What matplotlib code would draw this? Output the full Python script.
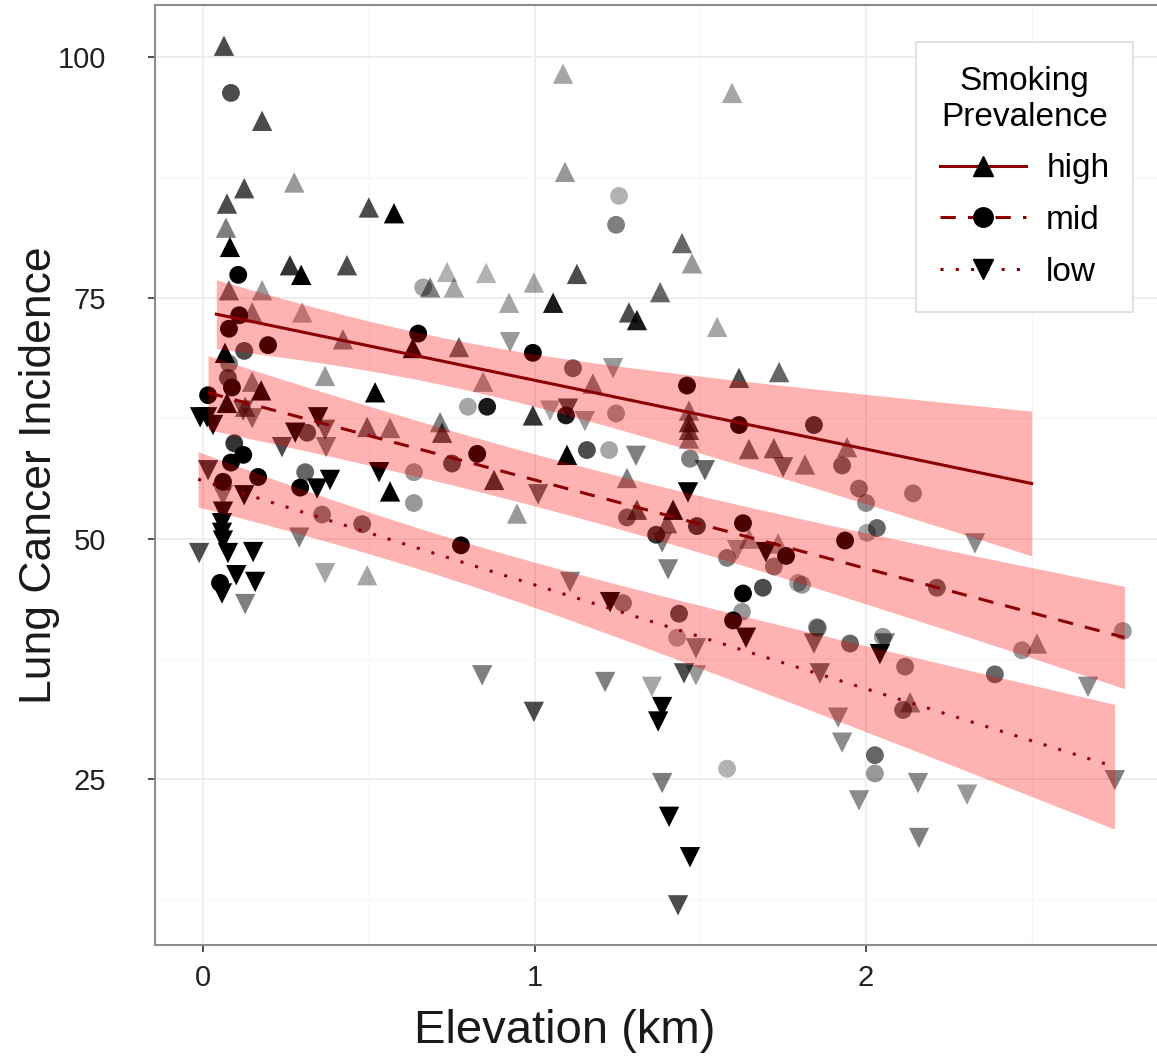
import numpy as np
import matplotlib
matplotlib.use("Agg")
import matplotlib.pyplot as plt
from matplotlib.lines import Line2D

plt.rcParams['font.family'] = ['Liberation Sans', 'DejaVu Sans']

# high smoking prevalence: elevation (km), incidence, shade (alpha)
high_x = [0.063, 0.178, 0.124, 0.275, 0.072, 0.069, 0.081, 0.500, 0.576, 0.262,
          0.296, 0.434, 0.736, 0.854, 0.685, 0.757, 0.078, 0.178, 0.299, 0.148,
          1.086, 1.596, 1.092, 1.445, 1.475, 0.998, 1.128, 0.923, 1.056, 1.379,
          1.285, 1.309, 1.551, 0.422, 0.633, 0.772, 0.368, 0.845, 0.519, 0.066,
          0.072, 0.148, 0.175, 0.127, 0.495, 0.564, 0.715, 0.721, 0.564, 0.995,
          1.176, 1.617, 1.738, 1.466, 1.466, 1.466, 1.466, 1.098, 1.647, 1.722,
          1.816, 0.878, 1.279, 0.947, 1.309, 1.418, 1.400, 1.647, 1.735, 1.943,
          2.516, 2.133, 0.495]
high_y = [101.2, 93.4, 86.4, 87.0, 84.8, 82.3, 80.3, 84.4, 83.8, 78.4,
          77.4, 78.4, 77.7, 77.6, 76.1, 76.1, 75.8, 75.8, 73.5, 73.5,
          98.3, 96.3, 88.1, 80.7, 78.6, 76.6, 77.5, 74.5, 74.5, 75.6,
          73.5, 72.7, 72.0, 70.7, 69.8, 69.9, 66.9, 66.3, 65.2, 69.3,
          64.1, 66.3, 65.4, 63.7, 61.6, 61.5, 62.1, 61.0, 54.9, 62.8,
          66.1, 66.7, 67.3, 63.3, 62.1, 61.3, 60.4, 58.7, 59.3, 59.4,
          57.7, 56.1, 56.3, 52.6, 53.0, 53.0, 51.6, 50.0, 49.5, 59.5,
          39.1, 33.0, 46.2]
high_a = [0.7, 0.7, 0.7, 0.4, 0.7, 0.5, 1.0, 0.7, 1.0, 0.8,
          1.0, 0.7, 0.3, 0.3, 0.5, 0.35, 0.6, 0.4, 0.35, 0.5,
          0.35, 0.35, 0.4, 0.6, 0.4, 0.35, 0.7, 0.35, 0.9, 0.6,
          0.7, 0.9, 0.35, 0.5, 1.0, 0.6, 0.4, 0.4, 1.0, 1.0,
          1.0, 0.5, 1.0, 0.6, 0.6, 0.5, 0.5, 0.7, 1.0, 0.8,
          0.5, 0.7, 0.6, 0.5, 0.8, 0.7, 0.5, 1.0, 0.6, 0.6,
          0.5, 0.8, 0.5, 0.4, 0.7, 1.0, 0.6, 0.4, 0.4, 0.5,
          0.45, 0.5, 0.35]

# mid smoking prevalence
mid_x = [0.084, 1.255, 1.246, 0.664, 0.106, 0.109, 0.078, 0.124, 0.196, 0.078,
         0.649, 0.075, 0.087, 0.015, 0.799, 0.857, 0.314, 0.827, 0.751, 0.094,
         0.121, 0.084, 0.166, 0.060, 0.308, 0.293, 0.636, 0.636, 0.359, 0.480,
         0.778, 0.051, 0.995, 1.116, 1.460, 1.095, 1.246, 1.617, 1.843, 1.158,
         1.225, 1.469, 1.928, 1.979, 2.142, 2.000, 2.033, 2.003, 1.937, 1.279,
         1.490, 1.629, 1.367, 1.759, 1.581, 1.722, 1.795, 1.689, 1.629, 1.267,
         1.436, 1.599, 1.626, 1.852, 1.430, 2.214, 1.807, 1.855, 1.952, 2.051,
         2.118, 2.389, 2.471, 2.775, 2.112, 2.027, 2.027, 1.581]
mid_y = [96.3, 85.6, 82.6, 76.1, 77.4, 73.2, 71.8, 69.5, 70.1, 68.2,
         71.3, 66.7, 65.7, 64.9, 63.7, 63.7, 61.0, 58.8, 57.8, 59.9,
         58.7, 57.9, 56.4, 55.9, 56.9, 55.3, 56.9, 53.7, 52.5, 51.5,
         49.3, 45.4, 69.3, 67.7, 65.9, 62.8, 63.0, 61.8, 61.8, 59.2,
         59.2, 58.3, 57.6, 55.2, 54.7, 53.7, 51.1, 50.6, 49.8, 52.2,
         51.3, 51.6, 50.4, 48.2, 48.0, 47.1, 45.4, 44.9, 44.3, 43.3,
         42.2, 41.5, 42.4, 40.8, 39.7, 44.9, 45.2, 40.7, 39.1, 39.8,
         36.7, 35.9, 38.4, 40.4, 32.2, 27.5, 25.6, 26.1]
mid_a = [0.7, 0.3, 0.5, 0.35, 1.0, 1.0, 1.0, 0.7, 1.0, 0.5,
         1.0, 0.7, 1.0, 1.0, 0.35, 0.9, 0.7, 1.0, 0.7, 0.8,
         1.0, 1.0, 1.0, 1.0, 0.6, 1.0, 0.4, 0.4, 0.5, 0.6,
         1.0, 1.0, 1.0, 0.6, 1.0, 0.9, 0.4, 1.0, 0.8, 0.7,
         0.35, 0.5, 0.6, 0.5, 0.45, 0.45, 0.6, 0.35, 1.0, 0.6,
         0.8, 1.0, 0.8, 1.0, 0.5, 0.5, 0.35, 0.7, 1.0, 0.5,
         0.7, 1.0, 0.4, 0.4, 0.35, 0.6, 0.4, 0.4, 0.6, 0.4,
         0.5, 0.6, 0.4, 0.4, 0.6, 0.6, 0.4, 0.3]

# low smoking prevalence
low_x = [0.012, 0.030, -0.009, 0.148, 0.347, 0.278, 0.368, 0.238, 0.371, 0.121,
         0.015, 0.124, 0.060, 0.060, 0.057, 0.057, 0.060, -0.012, 0.075, 0.151,
         0.100, 0.157, 0.057, 0.127, 0.290, 0.344, 0.383, 0.531, 0.368, 0.926,
         1.237, 1.047, 1.101, 1.152, 1.306, 1.514, 1.750, 1.011, 1.463, 1.385,
         1.611, 1.698, 1.107, 1.228, 1.403, 1.638, 1.487, 1.843, 2.057, 2.042,
         1.861, 2.670, 1.916, 1.928, 2.157, 2.305, 1.979, 2.160, 2.751, 2.329,
         0.842, 1.213, 1.354, 1.451, 1.487, 0.998, 1.385, 1.373, 1.385, 1.406,
         1.469, 1.433]
low_y = [62.6, 61.8, 62.6, 62.5, 62.6, 61.0, 61.3, 59.5, 59.5, 63.3,
         57.1, 54.5, 54.5, 52.8, 51.6, 50.6, 49.8, 48.5, 48.5, 48.6,
         46.2, 45.5, 44.3, 43.2, 50.1, 55.2, 56.1, 56.9, 46.4, 70.4,
         67.7, 63.3, 63.5, 62.2, 58.6, 57.1, 57.4, 54.6, 54.8, 49.6,
         48.8, 48.6, 45.5, 43.4, 46.8, 39.7, 38.6, 39.1, 39.1, 38.0,
         36.0, 34.6, 31.4, 28.8, 24.6, 23.4, 22.8, 18.9, 24.9, 49.5,
         35.8, 35.1, 34.6, 36.0, 35.8, 32.0, 32.5, 31.0, 24.6, 21.1,
         16.9, 11.9]
low_a = [1.0, 1.0, 1.0, 0.5, 1.0, 1.0, 0.6, 0.7, 0.5, 0.6,
         0.8, 1.0, 0.5, 1.0, 1.0, 1.0, 1.0, 0.7, 1.0, 1.0,
         1.0, 1.0, 1.0, 0.5, 0.5, 1.0, 1.0, 1.0, 0.35, 0.4,
         0.4, 0.35, 0.7, 0.4, 0.5, 0.6, 0.6, 0.6, 1.0, 0.5,
         0.4, 1.0, 0.5, 1.0, 0.5, 1.0, 0.5, 0.6, 0.5, 1.0,
         0.6, 0.45, 0.45, 0.45, 0.45, 0.4, 0.45, 0.5, 0.5, 0.45,
         0.5, 0.5, 0.35, 0.7, 0.4, 0.7, 1.0, 1.0, 0.5, 1.0,
         1.0, 0.7]

groups = ['high', 'mid', 'low']
markers = ['^', 'o', 'v']
linestyles = ['-', (0, (5, 4)), (0, (1, 4))]

# linear fits: intercept, slope, x range, CI half-width shape
fit_b0 = [73.6, 65.3, 56.0]
fit_b1 = [-7.15, -9.2, -10.8]
fit_lo = [0.04, 0.015, -0.015]
fit_hi = [2.5, 2.78, 2.75]
ci_min = [2.45, 2.7, 2.12]
ci_xc = [0.7, 1.05, 0.65]
ci_k = [15.6, 7.0, 8.5]

pts = [(high_x, high_y, high_a), (mid_x, mid_y, mid_a), (low_x, low_y, low_a)]

fig = plt.figure(figsize=(11.57, 10.64), dpi=100)
ax = fig.add_axes([0.134, 0.112, 0.878, 0.883])

for (xs, ys, al), m in zip(pts, markers):
    cols = [(0, 0, 0, a) for a in al]
    size = 165 if m == 'o' else 215
    ax.scatter(xs, ys, s=size, marker=m, c=cols, edgecolors='none', zorder=2)

for i in range(3):
    xx = np.linspace(fit_lo[i], fit_hi[i], 100)
    yy = fit_b0[i] + fit_b1[i] * xx
    hw = np.sqrt(ci_min[i] ** 2 + ci_k[i] * (xx - ci_xc[i]) ** 2)
    ax.fill_between(xx, yy - hw, yy + hw, color='red', alpha=0.3,
                    linewidth=0, zorder=3)
    ax.plot(xx, yy, color='#8B0000', lw=2.2, linestyle=linestyles[i], zorder=4)

ax.set_xlim(-0.145, 2.92)
ax.set_ylim(7.8, 105.4)
ax.set_xticks([0, 1, 2])
ax.set_yticks([25, 50, 75, 100])
ax.set_xticks([0.5, 1.5, 2.5], minor=True)
ax.set_yticks([12.5, 37.5, 62.5, 87.5], minor=True)
ax.grid(True, which='major', color='#EBEBEB', lw=1.2, zorder=0)
ax.grid(True, which='minor', color='#F6F6F6', lw=1.0, zorder=0)
ax.set_axisbelow(True)
ax.tick_params(which='major', length=5, width=1.2, color='#333333',
               labelsize=21, labelcolor='#222222')
ax.tick_params(axis='y', which='major', pad=30)
ax.tick_params(axis='x', which='major', pad=9)
ax.tick_params(which='minor', length=0)
for s in ax.spines.values():
    s.set_color('#8C8C8C')
    s.set_linewidth(1.5)

ax.set_xlabel('Elevation (km)', fontsize=34, color='#1a1a1a')
ax.set_ylabel('Lung Cancer Incidence', fontsize=32, color='#1a1a1a')
ax.xaxis.set_label_coords((565 - 155) / 1016, -0.068)
ax.yaxis.set_label_coords(-0.094, 0.5)

handles = [Line2D([0], [0], color='#8B0000', lw=2.2, linestyle=linestyles[i],
                  marker=markers[i], markersize=14, markerfacecolor='black',
                  markeredgecolor='black')
           for i in range(3)]
leg = ax.legend(handles, groups, title='Smoking\nPrevalence',
                loc='upper right', bbox_to_anchor=(0.963, 0.961),
                borderaxespad=0, fontsize=24, title_fontsize=24,
                frameon=True, fancybox=False, framealpha=1,
                edgecolor='#DDDDDD', handlelength=2.6, labelspacing=0.62,
                borderpad=0.72, handletextpad=0.6)
leg.get_frame().set_linewidth(1.2)
leg.get_title().set_multialignment('center')

fig.savefig('out.png', dpi=100)
